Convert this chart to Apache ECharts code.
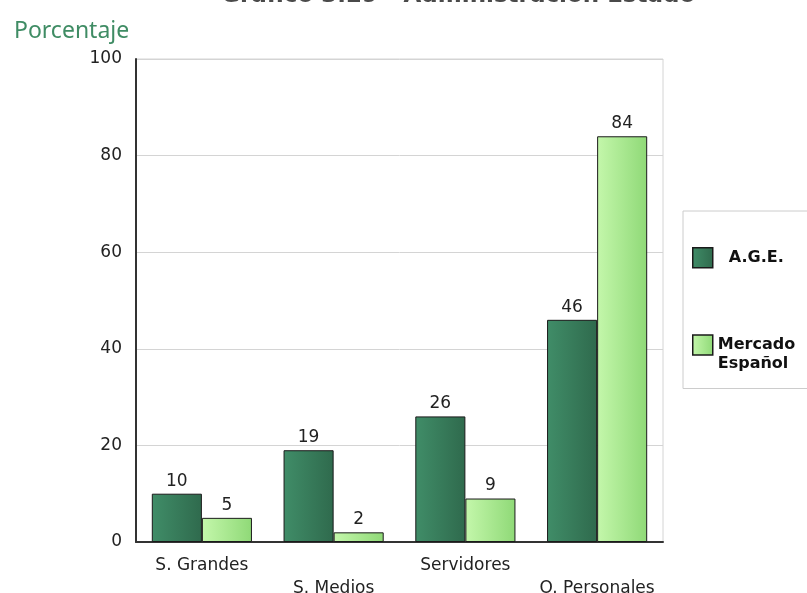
<!DOCTYPE html>
<html>
<head>
<meta charset="utf-8">
<script src="https://cdn.jsdelivr.net/npm/echarts@6/dist/echarts.min.js"></script>
<style>html,body{margin:0;padding:0;background:#fff;}#c{width:807px;height:593px;}</style>
</head>
<body>
<div id="c"></div>
<script>
var categories = ['S. Grandes', 'S. Medios', 'Servidores', 'O. Personales'];
var ageValues = [10, 19, 26, 46];
var mercadoValues = [5, 2, 9, 84];
var yTicks = [0, 20, 40, 60, 80, 100];
var seriesNames = ['A.G.E.', 'Mercado Español'];
var titleText = 'Gráfico 3.29 - Administración Estado';
var yAxisTitle = 'Porcentaje';

var chart = echarts.init(document.getElementById('c'));
var grad1 = new echarts.graphic.LinearGradient(0, 0, 1, 0, [
  {offset: 0, color: '#408d68'}, {offset: 1, color: '#2f6a4d'}
]);
var grad2 = new echarts.graphic.LinearGradient(0, 0, 1, 0, [
  {offset: 0, color: '#c4f7ab'}, {offset: 1, color: '#8fd977'}
]);
var labelStyle = {show: true, position: 'top', distance: 4, color: '#222', fontFamily: 'DejaVu Sans', fontSize: 17};
chart.setOption({
  animation: false,
  backgroundColor: '#fff',
  title: [{
    text: titleText, left: 216, top: -20,
    textStyle: {fontFamily: 'DejaVu Sans', fontWeight: 'bold', fontSize: 23, color: '#4a4a4a'}
  }, {
    text: yAxisTitle, left: 9, top: 15,
    textStyle: {fontFamily: 'Noto Sans', fontWeight: 'normal', fontSize: 23, color: '#3f8c64'}
  }],
  grid: {left: 136, right: 144, top: 59, bottom: 51, show: true, borderColor: '#d4d4d4', borderWidth: 1, outerBoundsMode: 'none', containLabel: false},
  legend: {
    orient: 'vertical', left: 683, top: 211,
    padding: [36, 60, 15, 9],
    itemGap: 48,
    itemWidth: 20, itemHeight: 20,
    icon: 'rect',
    borderColor: '#cccccc', borderWidth: 1,
    itemStyle: {borderColor: '#1a1a1a', borderWidth: 1.5},
    textStyle: {fontFamily: 'DejaVu Sans', fontWeight: 'bold', fontSize: 16, color: '#111', lineHeight: 19},
    data: [
      {name: seriesNames[0], textStyle: {padding: [0, 0, 0, 11]}},
      {name: seriesNames[1]}
    ],
    formatter: function (n) { return n.indexOf(' ') > 0 ? '\n' + n.replace(' ', '\n') : n; },
    selectedMode: false
  },
  xAxis: {
    type: 'category', data: categories,
    axisLine: {lineStyle: {color: '#333', width: 2}},
    axisTick: {show: false},
    axisLabel: {
      interval: 0, color: '#222', fontFamily: 'DejaVu Sans', fontSize: 17, margin: 12, lineHeight: 23,
      formatter: function (v, i) { return i % 2 === 1 ? '\n' + v : v; }
    }
  },
  yAxis: {
    type: 'value', min: 0, max: 100, interval: 20,
    axisLine: {show: true, lineStyle: {color: '#333', width: 2}},
    axisTick: {show: false},
    splitLine: {lineStyle: {color: '#d4d4d4', width: 1}},
    axisLabel: {color: '#222', fontFamily: 'DejaVu Sans', fontSize: 17, margin: 14,
      formatter: function (v) { return yTicks.indexOf(v) >= 0 ? String(v) : ''; }}
  },
  series: [{
    name: seriesNames[0], type: 'bar', data: ageValues, barGap: '0%', barCategoryGap: '24%',
    itemStyle: {color: grad1, borderColor: '#1a1a1a', borderWidth: 1},
    label: labelStyle
  }, {
    name: seriesNames[1], type: 'bar', data: mercadoValues, barGap: '0%', barCategoryGap: '24%',
    itemStyle: {color: grad2, borderColor: '#1a1a1a', borderWidth: 1},
    label: labelStyle
  }]
});
</script>
</body>
</html>
